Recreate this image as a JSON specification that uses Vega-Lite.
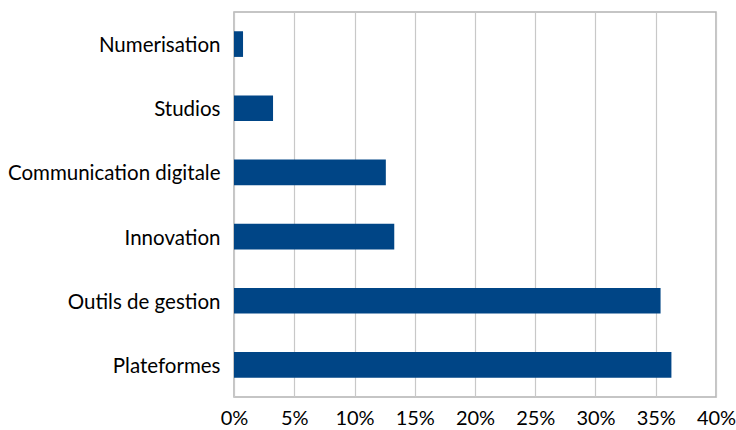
{
  "$schema": "https://vega.github.io/schema/vega-lite/v6.json",
  "autosize": "none",
  "width": 482,
  "height": 385,
  "padding": {"left": 234, "top": 12, "right": 20, "bottom": 33},
  "background": "white",
  "config": {
    "view": {"stroke": "#b3b3b3", "strokeWidth": 1.5},
    "font": "Lato"
  },
  "data": {
    "values": [
      {"categorie": "Numerisation", "part": 0.0075},
      {"categorie": "Studios", "part": 0.0324},
      {"categorie": "Communication digitale", "part": 0.126},
      {"categorie": "Innovation", "part": 0.133},
      {"categorie": "Outils de gestion", "part": 0.354},
      {"categorie": "Plateformes", "part": 0.363}
    ]
  },
  "mark": {"type": "bar", "color": "#004586"},
  "encoding": {
    "y": {
      "field": "categorie",
      "type": "nominal",
      "sort": null,
      "title": null,
      "scale": {"paddingInner": 0.6, "paddingOuter": 0.3},
      "axis": {
        "ticks": false,
        "domain": false,
        "labelPadding": 14,
        "labelOffset": 2,
        "labelFontSize": 20.5,
        "labelColor": "#000000",
        "labelFont": "Lato",
        "labelLimit": 300
      }
    },
    "x": {
      "field": "part",
      "type": "quantitative",
      "title": null,
      "scale": {"domain": [0, 0.4], "nice": false},
      "axis": {
        "values": [0, 0.05, 0.1, 0.15, 0.2, 0.25, 0.3, 0.35, 0.4],
        "format": ".0%",
        "ticks": false,
        "domain": false,
        "grid": true,
        "gridColor": "#c8c8c8",
        "gridWidth": 1.2,
        "gridOpacity": 1,
        "labelFlush": false,
        "labelOverlap": false,
        "labelPadding": 11,
        "labelFontSize": 20,
        "labelColor": "#000000",
        "labelFont": "Lato",
        "labelBaseline": "top"
      }
    }
  }
}
